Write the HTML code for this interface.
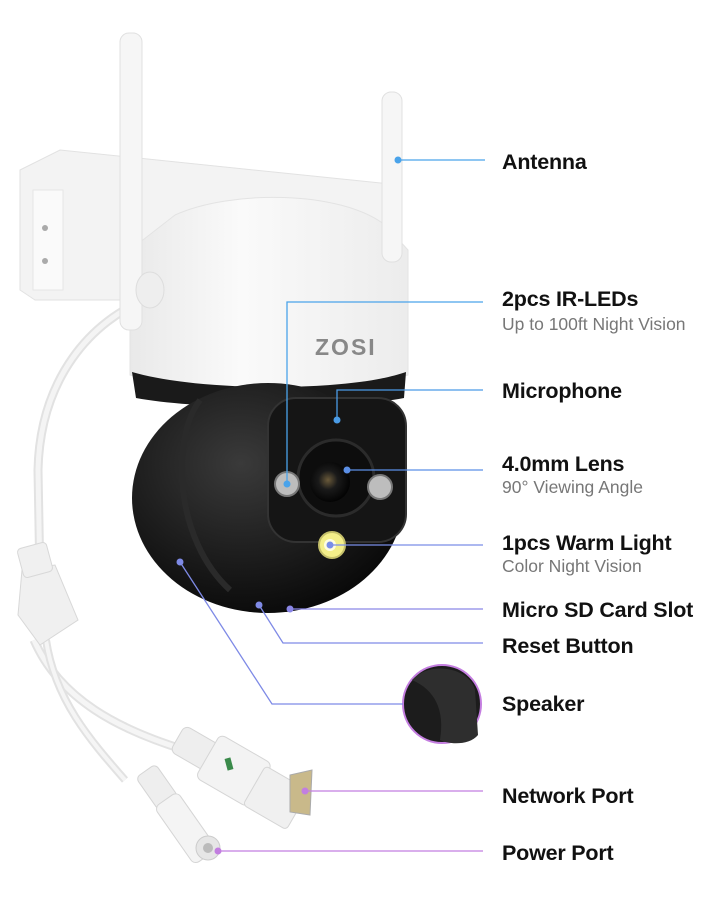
<!DOCTYPE html>
<html><head><meta charset="utf-8"><style>
html,body{margin:0;padding:0;background:#fff;width:720px;height:900px;overflow:hidden}
.t{font-family:"Liberation Sans",sans-serif;font-size:21.5px;font-weight:bold;fill:#111;letter-spacing:-0.2px}
.s{font-family:"Liberation Sans",sans-serif;font-size:17.5px;fill:#777}
</style></head><body>
<svg width="720" height="900" viewBox="0 0 720 900" xmlns="http://www.w3.org/2000/svg">
<defs>
<radialGradient id="ball" cx="0.4" cy="0.35" r="0.7"><stop offset="0" stop-color="#3a3a3a"/><stop offset="1" stop-color="#080808"/></radialGradient>
<linearGradient id="dome" x1="0" x2="1"><stop offset="0" stop-color="#e9e9e9"/><stop offset="0.4" stop-color="#fafafa"/><stop offset="1" stop-color="#ececec"/></linearGradient>
<radialGradient id="lens" cx="0.45" cy="0.45" r="0.6"><stop offset="0" stop-color="#6a5a3a"/><stop offset="0.4" stop-color="#1a1a1a"/><stop offset="1" stop-color="#000"/></radialGradient>
</defs>
<path d="M150 298 C90 320 40 380 38 470 L40 580" fill="none" stroke="#e2e2e2" stroke-width="9"/>
<path d="M150 298 C90 320 40 380 38 470 L40 580" fill="none" stroke="#f4f4f4" stroke-width="5"/>
<path d="M20 170 L60 150 L400 185 L400 230 L180 260 L180 300 L35 300 L20 290 Z" fill="#f3f3f3" stroke="#e2e2e2"/>
<rect x="33" y="190" width="30" height="100" fill="#fafafa" stroke="#e6e6e6"/>
<circle cx="45" cy="228" r="3" fill="#aaa"/><circle cx="45" cy="261" r="3" fill="#aaa"/>
<path d="M175 215 C230 190 340 190 385 225 L408 250 L408 375 C350 392 190 392 130 375 L130 250 Z" fill="url(#dome)" stroke="#e3e3e3"/>
<path d="M132 372 C200 392 350 392 406 372 L404 398 C340 410 200 410 136 398 Z" fill="#1a1a1a"/>
<text x="315" y="355" font-family="Liberation Sans,sans-serif" font-weight="bold" font-size="23" fill="#888" letter-spacing="2">ZOSI</text>
<rect x="120" y="33" width="22" height="297" rx="9" fill="#f6f6f6" stroke="#e0e0e0"/>
<rect x="382" y="92" width="20" height="170" rx="9" fill="#f6f6f6" stroke="#e0e0e0"/>
<ellipse cx="150" cy="290" rx="14" ry="18" fill="#eee" stroke="#ddd"/>
<ellipse cx="268" cy="498" rx="136" ry="115" fill="url(#ball)"/>
<path d="M200 400 C170 440 175 540 230 590" fill="none" stroke="#2a2a2a" stroke-width="6"/>
<rect x="268" y="398" width="138" height="144" rx="28" fill="#151515" stroke="#333" stroke-width="2"/>
<circle cx="337" cy="420" r="1.5" fill="#555"/>
<circle cx="336" cy="478" r="38" fill="#0d0d0d" stroke="#2b2b2b" stroke-width="3"/>
<circle cx="330" cy="482" r="20" fill="url(#lens)"/>
<circle cx="287" cy="484" r="12" fill="#bdbdbd" stroke="#777" stroke-width="2"/>
<circle cx="380" cy="487" r="12" fill="#bdbdbd" stroke="#777" stroke-width="2"/>
<circle cx="332" cy="545" r="13" fill="#f4ef8a" stroke="#c5c06a" stroke-width="2"/>
<circle cx="330" cy="545" r="6" fill="#fffde0"/>
<path d="M34 640 C60 700 120 730 185 750" fill="none" stroke="#e2e2e2" stroke-width="9"/>
<path d="M34 640 C60 700 120 730 185 750" fill="none" stroke="#f5f5f5" stroke-width="5"/>
<path d="M46 640 C55 700 90 740 125 780" fill="none" stroke="#e2e2e2" stroke-width="8"/>
<path d="M46 640 C55 700 90 740 125 780" fill="none" stroke="#f5f5f5" stroke-width="4"/>
<path d="M22 570 L55 565 L78 620 L40 645 L18 615 Z" fill="#f0f0f0" stroke="#d8d8d8"/>
<rect x="20" y="545" width="30" height="30" rx="4" fill="#f0f0f0" stroke="#d8d8d8" transform="rotate(-15 35 560)"/>
<g transform="rotate(30 240 780)">
<rect x="165" y="760" width="40" height="30" rx="6" fill="#eee" stroke="#d5d5d5"/>
<rect x="200" y="750" width="60" height="50" rx="6" fill="#f3f3f3" stroke="#d5d5d5"/>
<rect x="255" y="755" width="50" height="45" rx="4" fill="#f0f0f0" stroke="#d5d5d5"/>
</g>
<rect x="226" y="758" width="6" height="12" fill="#3a8a4a" transform="rotate(-15 229 764)"/>
<path d="M290 775 L312 770 L310 815 L290 812 Z" fill="#c9b98a" stroke="#aaa"/>
<g transform="rotate(55 180 820)">
<rect x="120" y="808" width="40" height="24" rx="5" fill="#eee" stroke="#d5d5d5"/>
<rect x="155" y="806" width="70" height="28" rx="6" fill="#f4f4f4" stroke="#d5d5d5"/>
</g>
<circle cx="208" cy="848" r="12" fill="#e6e6e6" stroke="#ccc"/>
<circle cx="208" cy="848" r="5" fill="#bbb"/>
<circle cx="442" cy="704" r="39" fill="#1c1c1c" stroke="#c47ee0" stroke-width="2"/>
<path d="M412 680 C430 660 470 668 475 690 L478 735 C470 745 450 745 440 740 C445 710 435 690 412 680 Z" fill="#2e2e2e"/>
<g fill="none" stroke-width="1.3">
<path d="M398 160 H485" stroke="#4aa3ea"/>
<path d="M287 484 V302 H483" stroke="#4aa3ea"/>
<path d="M337 420 V390 H483" stroke="#4a9be6"/>
<path d="M347 470 H483" stroke="#5b8fe6"/>
<path d="M330 545 H483" stroke="#7a8ee8"/>
<path d="M290 609 H483" stroke="#8a86e6"/>
<path d="M259 605 L283 643 H483" stroke="#7f8ae6"/>
<path d="M180 562 L272 704 H403" stroke="#7e8ae6"/>
<path d="M305 791 H483" stroke="#c27ee0"/>
<path d="M218 851 H483" stroke="#c27ee0"/>
</g>
<g>
<circle cx="398" cy="160" r="3.5" fill="#4aa3ea"/>
<circle cx="287" cy="484" r="3.5" fill="#4aa3ea"/>
<circle cx="337" cy="420" r="3.5" fill="#4a9be6"/>
<circle cx="347" cy="470" r="3.5" fill="#5b8fe6"/>
<circle cx="330" cy="545" r="3.5" fill="#7a8ee8"/>
<circle cx="290" cy="609" r="3.5" fill="#8a86e6"/>
<circle cx="259" cy="605" r="3.5" fill="#7f8ae6"/>
<circle cx="180" cy="562" r="3.5" fill="#7e8ae6"/>
<circle cx="305" cy="791" r="3.5" fill="#c27ee0"/>
<circle cx="218" cy="851" r="3.5" fill="#c27ee0"/>
</g>
<text class="t" x="502" y="169">Antenna</text>
<text class="t" x="502" y="306">2pcs IR-LEDs</text>
<text class="s" x="502" y="330">Up to 100ft Night Vision</text>
<text class="t" x="502" y="398">Microphone</text>
<text class="t" x="502" y="471">4.0mm Lens</text>
<text class="s" x="502" y="493">90° Viewing Angle</text>
<text class="t" x="502" y="550">1pcs Warm Light</text>
<text class="s" x="502" y="572">Color Night Vision</text>
<text class="t" x="502" y="617">Micro SD Card Slot</text>
<text class="t" x="502" y="653">Reset Button</text>
<text class="t" x="502" y="711">Speaker</text>
<text class="t" x="502" y="803">Network Port</text>
<text class="t" x="502" y="860">Power Port</text>
</svg>
</body></html>
